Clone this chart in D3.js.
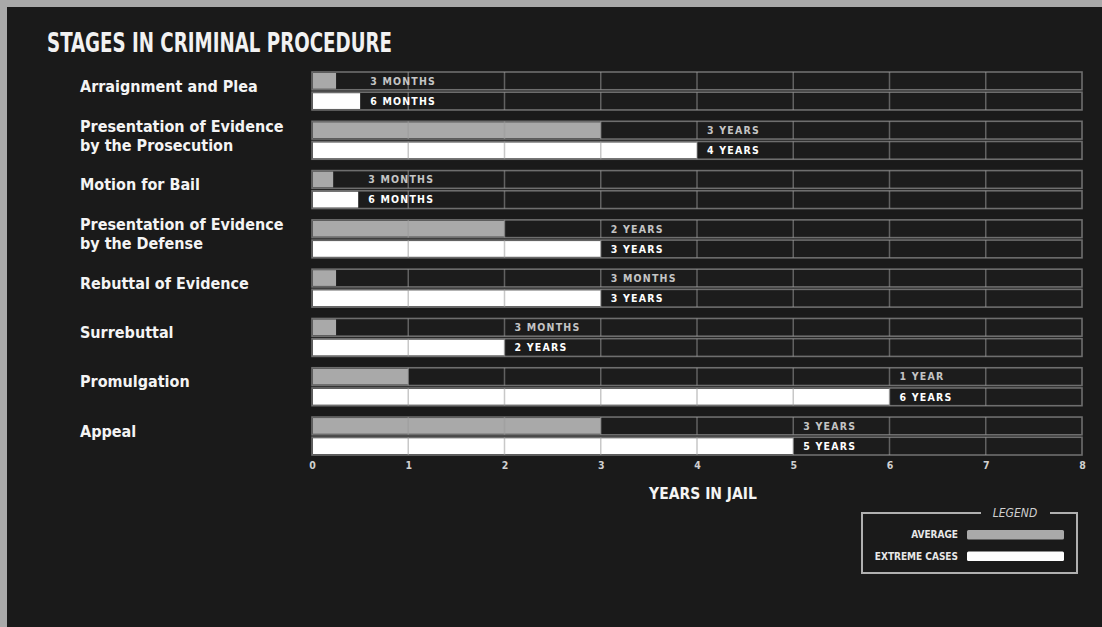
<!DOCTYPE html>
<meta charset="utf-8">
<script src="https://d3js.org/d3.v7.min.js"></script>
<style type="text/css">
body { margin: 0; background: #a9a9a9; }
.titulo { fill: #f2f2f2; font-family: "DejaVu Sans Condensed", "Liberation Sans Narrow", sans-serif; font-weight: bold; }
.categoria { fill: #f4f4f4; font-family: "DejaVu Sans Condensed", "Liberation Sans Narrow", sans-serif; font-weight: bold; font-size: 16px; }
.rotulo { font-family: "DejaVu Sans Condensed", sans-serif; font-weight: bold; font-size: 10.5px; letter-spacing: 1.2px; }
.tick-txt { fill: #d0d0d0; font-family: "DejaVu Sans Condensed", sans-serif; font-weight: bold; font-size: 10.5px; }
</style>
<body>
<div id="canvas"></div>
<script>
// dados ---------------------------------------------------------------
var categorias = [
    "Arraignment and Plea",
    "Presentation of Evidence\nby the Prosecution",
    "Motion for Bail",
    "Presentation of Evidence\nby the Defense",
    "Rebuttal of Evidence",
    "Surrebuttal",
    "Promulgation",
    "Appeal"
];
var media = [0.25, 3, 0.22, 2, 0.25, 0.25, 1, 3];
var extremo = [0.5, 4, 0.48, 3, 3, 2, 6, 5];
var rotulosMedia = ["3 MONTHS", "3 YEARS", "3 MONTHS", "2 YEARS", "3 MONTHS", "3 MONTHS", "1 YEAR", "3 YEARS"];
var rotulosExtremo = ["6 MONTHS", "4 YEARS", "6 MONTHS", "3 YEARS", "3 YEARS", "2 YEARS", "6 YEARS", "5 YEARS"];
var anosTicks = [0, 1, 2, 3, 4, 5, 6, 7, 8];
var series = ["AVERAGE", "EXTREME CASES"];

var width = 1102, height = 627;
var corFundo = "#1a1a1a", corCinza = "#a9a9a9", corBranco = "#ffffff", corGrade = "#6e6e6e";

var svg = d3.select("#canvas").append("svg")
    .attr("width", width).attr("height", height)
    .style("display", "block");

// moldura cinza e painel escuro
svg.append("rect").attr("width", width).attr("height", height).attr("fill", "#a9a9a9");
svg.append("rect").attr("x", 7).attr("y", 7).attr("width", width - 7).attr("height", height - 7).attr("fill", corFundo);

// titulo
svg.append("text").attr("class", "titulo")
    .attr("x", 47).attr("y", 52)
    .style("font-size", "27px")
    .attr("textLength", 345).attr("lengthAdjust", "spacingAndGlyphs")
    .text("STAGES IN CRIMINAL PROCEDURE");

// escalas -----------------------------------------------------------
var x = d3.scaleLinear().domain([0, 8]).range([312, 1082]);
var y = d3.scaleBand().domain(categorias).range([72, 455]).paddingInner(0.23);
var ySub = d3.scaleBand().domain(series).range([0, y.bandwidth()]).paddingInner(0.12);

var dados = categorias.map(function(c, i) {
    return {cat: c, valores: [
        {serie: series[0], v: media[i], rot: rotulosMedia[i]},
        {serie: series[1], v: extremo[i], rot: rotulosExtremo[i]}
    ], max: Math.max(media[i], extremo[i])};
});

var g = svg.append("g");

var grupos = g.selectAll(".cat").data(dados).enter().append("g")
    .attr("transform", function(d) { return "translate(0," + y(d.cat) + ")"; });

// trilhos
grupos.selectAll(".trilho").data(function(d) { return d.valores; }).enter().append("rect")
    .attr("x", x(0)).attr("y", function(d) { return ySub(d.serie); })
    .attr("width", x(8) - x(0)).attr("height", ySub.bandwidth())
    .attr("fill", "#1c1c1c").attr("stroke", corGrade).attr("stroke-width", 1.6);

// barras
grupos.selectAll(".barra").data(function(d) { return d.valores; }).enter().append("rect")
    .attr("x", x(0) + 1).attr("y", function(d) { return ySub(d.serie) + 1; })
    .attr("width", function(d) { return x(d.v) - x(0) - 1; }).attr("height", ySub.bandwidth() - 2)
    .attr("fill", function(d) { return d.serie === series[0] ? corCinza : corBranco; });

// grade vertical
grupos.each(function() {
    var gg = d3.select(this);
    series.forEach(function(s) {
        gg.selectAll(null).data(anosTicks.slice(1, -1)).enter().append("line")
            .attr("x1", function(t) { return x(t); }).attr("x2", function(t) { return x(t); })
            .attr("y1", ySub(s)).attr("y2", ySub(s) + ySub.bandwidth())
            .attr("stroke", "#9a9a9a").attr("stroke-opacity", 0.55).attr("stroke-width", 1.5);
    });
});

// rotulos dos valores
grupos.each(function(d) {
    var gg = d3.select(this);
    d.valores.forEach(function(v) {
        gg.append("text").attr("class", "rotulo")
            .attr("x", x(d.max) + 10)
            .attr("y", ySub(v.serie) + ySub.bandwidth() / 2)
            .attr("dy", "0.36em")
            .attr("fill", v.serie === series[0] ? "#c4c4c4" : "#ffffff")
            .text(v.rot);
    });
});

// nomes das categorias
grupos.each(function(d) {
    var linhas = d.cat.split("\n");
    var t = d3.select(this).append("text").attr("class", "categoria")
        .attr("y", y.bandwidth() / 2 - 5 - (linhas.length - 1) * 9.5);
    linhas.forEach(function(l, i) {
        t.append("tspan").attr("x", 80).attr("dy", i === 0 ? "0.36em" : 19).text(l);
    });
});

// eixo X ---------------------------------------------------------------
var eixo = g.append("g")
    .attr("transform", "translate(0," + 458 + ")")
    .call(d3.axisBottom(x).tickValues(anosTicks).tickFormat(d3.format("d")).tickSize(0).tickPadding(4));
eixo.select(".domain").remove();
eixo.selectAll("text").attr("class", "tick-txt").attr("fill", null);

svg.append("text").attr("class", "categoria")
    .attr("x", 703).attr("y", 499).attr("text-anchor", "middle")
    .style("font-size", "15.5px")
    .text("YEARS IN JAIL");

// legenda ------------------------------------------------------------
var leg = svg.append("g");
leg.append("path")
    .attr("d", "M981,513 H862 V573 H1077 V513 H1050")
    .attr("fill", "none").attr("stroke", "#b0b0b0").attr("stroke-width", 2);
leg.append("text").attr("x", 1015).attr("y", 517).attr("text-anchor", "middle")
    .attr("fill", "#d0d0d0").style("font-family", "DejaVu Sans Condensed, sans-serif")
    .style("font-style", "italic").style("font-size", "12px").text("LEGEND");
var yLeg = d3.scaleBand().domain(series).range([530, 561]).paddingInner(0.55);
leg.selectAll(".lrect").data(series).enter().append("rect")
    .attr("x", 967).attr("y", function(s) { return yLeg(s); })
    .attr("width", 97).attr("height", yLeg.bandwidth())
    .attr("fill", function(s, i) { return i === 0 ? corCinza : corBranco; })
    .attr("rx", 1.5);
leg.selectAll(".ltxt").data(series).enter().append("text")
    .attr("x", 958).attr("y", function(s) { return yLeg(s) + yLeg.bandwidth() / 2; })
    .attr("dy", "0.36em").attr("text-anchor", "end")
    .attr("fill", "#e8e8e8").style("font-family", "DejaVu Sans Condensed, sans-serif")
    .style("font-weight", "bold").style("font-size", "10px")
    .text(function(s) { return s; });
</script>
</body>
